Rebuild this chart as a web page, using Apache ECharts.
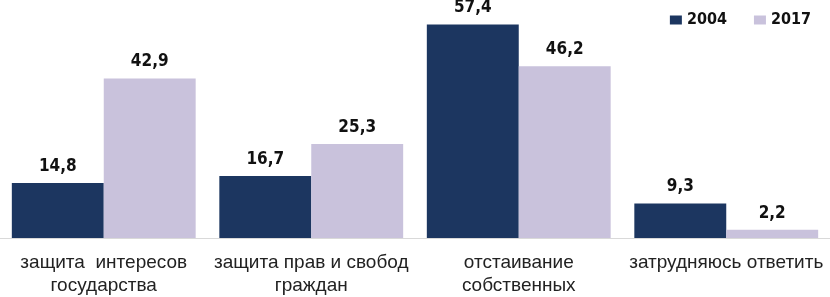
<!DOCTYPE html>
<html>
<head>
<meta charset="utf-8">
<script src="https://cdn.jsdelivr.net/npm/echarts@6/dist/echarts.min.js"></script>
<style>
    html, body { margin: 0; padding: 0; background: #fff; }
    #chart { width: 830px; height: 297px; }
</style>
</head>
<body>
<div id="chart"></div>
<script>
    let categories = [
        'защита  интересов\nгосударства',
        'защита прав и свобод\nграждан',
        'отстаивание\nсобственных',
        'затрудняюсь ответить'
    ];
    let values2004 = [14.8, 16.7, 57.4, 9.3];
    let values2017 = [42.9, 25.3, 46.2, 2.2];

    let myChart = echarts.init(document.getElementById('chart'));

    let labelStyle = {
        show: true,
        position: 'top',
        distance: 8,
        fontFamily: 'DejaVu Sans Condensed',
        fontWeight: 'bold',
        fontSize: 17,
        color: '#111',
        formatter: function (p) {
            return String(p.value).replace('.', ',');
        }
    };

    let option = {
        animation: false,
        grid: {left: 0, right: 0, top: 0, bottom: 58.5, containLabel: false},
        legend: {
            right: 14,
            top: 7,
            itemWidth: 12,
            itemHeight: 9,
            itemGap: 27,
            itemTextGap: 4,
            icon: 'rect',
            textStyle: {
                fontFamily: 'DejaVu Sans Condensed',
                fontWeight: 'bold',
                fontSize: 16,
                color: '#111'
            },
            data: ['2004', '2017']
        },
        xAxis: {
            type: 'category',
            data: categories,
            axisTick: {show: false},
            axisLine: {lineStyle: {color: '#d9d9d9', width: 1}},
            axisLabel: {
                interval: 0,
                margin: 13,
                fontFamily: 'Liberation Sans',
                fontSize: 19,
                lineHeight: 23,
                color: '#222'
            }
        },
        yAxis: {
            type: 'value',
            min: 0,
            max: 64,
            show: false,
            splitLine: {show: false}
        },
        series: [{
            name: '2004',
            type: 'bar',
            data: values2004,
            barGap: '0%',
            barCategoryGap: '11.4%',
            itemStyle: {color: '#1c3660'},
            label: labelStyle
        }, {
            name: '2017',
            type: 'bar',
            data: values2017,
            itemStyle: {color: '#c9c2dc'},
            label: labelStyle
        }]
    };
    myChart.setOption(option);
</script>
</body>
</html>
